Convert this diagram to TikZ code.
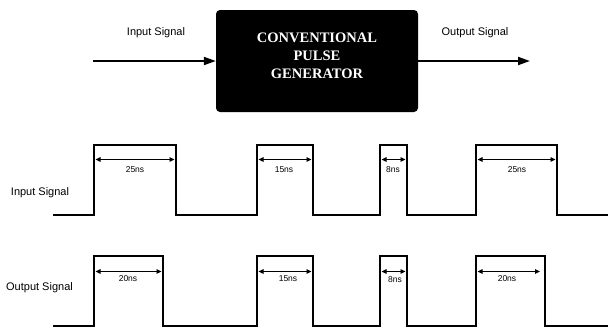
\documentclass[tikz,border=0pt]{standalone}
\usepackage{fontspec}
\setmainfont{Liberation Serif}
\setsansfont{Liberation Sans}
\usetikzlibrary{arrows.meta}
\begin{document}
\begin{tikzpicture}[x=1pt,y=-1pt,
 wave/.style={line width=2pt, line join=miter},
 dim/.style={line width=0.9pt,{Triangle[length=5pt,width=4.5pt]}-{Triangle[length=5pt,width=4.5pt]}},
 big/.style={line width=2pt,-{Triangle[length=12pt,width=8pt]}},
 lab/.style={font=\sffamily\fontsize{11}{12}\selectfont, inner sep=0pt},
 dlab/.style={font=\sffamily\fontsize{8.5}{10}\selectfont, inner sep=0pt}]
\useasboundingbox (0,0) rectangle (609,327);
% block diagram
\node[fill=black, rounded corners=4pt, minimum width=202pt, minimum height=102pt, inner sep=0pt] (gen) at (317,61) {};
\node[text=white, align=center, inner sep=0pt, font=\bfseries\fontsize{14.5}{18}\selectfont] (gent) at (317,56) {CONVENTIONAL\\PULSE\\GENERATOR};
\coordinate (in) at (93,61);
\coordinate (out) at (530,61);
\draw[big] (in) -- (gen.west);
\draw[big] (gen.east) -- (out);
\node[lab] (inlab) at (156,33) {Input Signal};
\node[lab] (outlab) at (475,33) {Output Signal};
% input waveform
\node[lab] (wil) at (40,193) {Input Signal};
\draw[wave] (53,215) -- (94,215) -- (94,145) -- (176,145) -- (176,215) -- (257,215) -- (257,145) -- (313,145) -- (313,215) -- (380,215) -- (380,145) -- (407,145) -- (407,215) -- (476,215) -- (476,145) -- (557,145) -- (557,215) -- (608,215);
\draw[dim] (95.5,159.5) -- (174.5,159.5);
\draw[dim] (258.5,159.5) -- (311.5,159.5);
\draw[dim] (381.5,159.5) -- (405.5,159.5);
\draw[dim] (477.5,159.5) -- (555.5,159.5);
\node[dlab] (i1) at (135,169.5) {25ns};
\node[dlab] (i2) at (284,169.5) {15ns};
\node[dlab] (i3) at (393,169.5) {8ns};
\node[dlab] (i4) at (517,169.5) {25ns};
% output waveform
\node[lab] (wol) at (39.5,288) {Output Signal};
\draw[wave] (53,325.5) -- (94,325.5) -- (94,256) -- (163,256) -- (163,325.5) -- (257,325.5) -- (257,256) -- (313,256) -- (313,325.5) -- (380,325.5) -- (380,256) -- (407,256) -- (407,325.5) -- (476,325.5) -- (476,256) -- (545,256) -- (545,325.5) -- (608,325.5);
\draw[dim] (95.5,271.5) -- (161.5,271.5);
\draw[dim] (258.5,271.5) -- (311.5,271.5);
\draw[dim] (381.5,271.5) -- (405.5,271.5);
\draw[dim] (477.5,271.5) -- (540,271.5);
\node[dlab] (o1) at (128,279) {20ns};
\node[dlab] (o2) at (288,279) {15ns};
\node[dlab] (o3) at (395,279.5) {8ns};
\node[dlab] (o4) at (507,279) {20ns};
\end{tikzpicture}
\end{document}
